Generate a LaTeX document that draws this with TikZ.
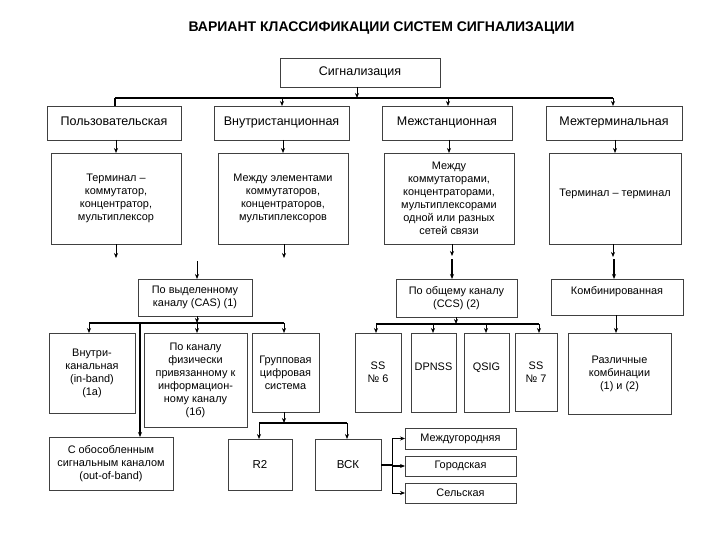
\documentclass[tikz,border=0pt]{standalone}
\usepackage{fontspec}
\setmainfont{Liberation Sans}
\usetikzlibrary{arrows.meta}
\begin{document}
\begin{tikzpicture}[x=1pt,y=-1pt,
  box/.style={draw=black!75, line width=0.8pt, inner sep=1pt, outer sep=0pt, align=center, font=\fontsize{10.9}{13}\selectfont},
  big/.style={box, font=\fontsize{12.5}{15}\selectfont, text height=9pt, text depth=3pt},
  arr/.style={-{Stealth[length=5pt,width=4pt]}, line width=0.7pt},
  tarr/.style={-{Stealth[length=5pt,width=4pt]}, line width=1.6pt},
  bus/.style={line width=2pt}]
\useasboundingbox[fill=white] (0,0) rectangle (720,540);

\node[font=\bfseries\fontsize{14}{16}\selectfont] (title) at (381.5,28) {ВАРИАНТ КЛАССИФИКАЦИИ СИСТЕМ СИГНАЛИЗАЦИИ};

\node[big, minimum width=160pt, minimum height=29pt] (sig) at (360,72.5) {Сигнализация};

\node[big, minimum width=134pt, minimum height=34pt] (P) at (114,123) {Пользовательская};
\node[big, minimum width=135pt, minimum height=34pt] (V) at (281.5,123) {Внутристанционная};
\node[big, minimum width=130pt, minimum height=34pt] (M) at (447,123) {Межстанционная};
\node[big, minimum width=136pt, minimum height=34pt] (T) at (614,123) {Межтерминальная};

\node[box, minimum width=130pt, minimum height=91pt] (A) at (116,198.5) {Терминал –\\коммутатор,\\концентратор,\\мультиплексор};
\node[box, minimum width=130pt, minimum height=91pt] (B) at (283,198.5) {Между элементами\\коммутаторов,\\концентраторов,\\мультиплексоров};
\node[box, minimum width=130pt, minimum height=91pt] (C) at (449,198.5) {Между\\коммутаторами,\\концентраторами,\\мультиплексорами\\одной или разных\\сетей связи};
\node[box, minimum width=132pt, minimum height=91pt, text height=8pt, text depth=12pt] (D) at (615,198.5) {Терминал – терминал};

\node[box, minimum width=114pt, minimum height=37pt] (CAS) at (195,297.5) {По выделенному\\каналу (CAS) (1)};
\node[box, minimum width=121pt, minimum height=38pt] (CCS) at (456.5,298) {По общему каналу\\(CCS) (2)};
\node[box, minimum width=132pt, minimum height=36pt, text height=8pt, text depth=14pt] (Komb) at (617,297) {Комбинированная};

\node[box, minimum width=86pt, minimum height=80pt] (IN) at (92,373) {Внутри-\\канальная\\(in-band)\\(1a)};
\node[box, minimum width=103pt, minimum height=94pt] (PK) at (195.5,380) {По каналу\\физически\\привязанному к\\информацион-\\ному каналу\\(1б)};
\node[box, minimum width=67pt, minimum height=79pt] (GR) at (285.5,372.5) {Групповая\\цифровая\\система};
\node[box, minimum width=46pt, minimum height=79pt] (SS6) at (378,372.5) {SS\\№ 6};
\node[box, minimum width=45pt, minimum height=79pt, text height=8pt, text depth=13pt] (DP) at (433.5,372.5) {DPNSS};
\node[box, minimum width=45pt, minimum height=79pt, text height=8pt, text depth=13pt] (QS) at (486.5,372.5) {QSIG};
\node[box, minimum width=42pt, minimum height=78pt] (SS7) at (536,372) {SS\\№ 7};
\node[box, minimum width=103pt, minimum height=81pt] (RK) at (619.5,373.5) {Различные\\комбинации\\(1) и (2)};

\node[box, minimum width=124pt, minimum height=53pt] (OB) at (111,463.5) {С обособленным\\сигнальным каналом\\(out-of-band)};
\node[box, font=\fontsize{11.5}{13}\selectfont, minimum width=64pt, minimum height=51pt] (R2) at (260,464.5) {R2};
\node[box, font=\fontsize{11.5}{13}\selectfont, minimum width=66pt, minimum height=51pt] (VSK) at (348,464.5) {ВСК};
\node[box, minimum width=111pt, minimum height=21pt] (MG) at (460.5,438.5) {Междугородняя};
\node[box, minimum width=111pt, minimum height=20pt] (GO) at (460.5,466) {Городская};
\node[box, minimum width=111pt, minimum height=20pt] (SE) at (460.5,493) {Сельская};

% top bus
\coordinate (b0) at (357,98);
\coordinate (bL) at (115,98);
\coordinate (bV) at (282,98);
\coordinate (bM) at (448,98);
\coordinate (bR) at (613,98);
\draw[arr] (sig.south -| b0) -- (b0);
\draw[bus] (bL) -- (bR);
\draw[bus] (bL) -- (P.north -| bL);
\draw[arr] (bV) -- (V.north -| bV);
\draw[arr] (bM) -- (M.north -| bM);
\draw[arr] (bR) -- (T.north -| bR);

% level 1 -> level 2
\draw[arr] (A.north |- P.south) -- (A.north);
\draw[arr] (B.north |- V.south) -- (B.north);
\draw[arr] (C.north |- M.south) -- (C.north);
\draw[arr] (D.north |- T.south) -- (D.north);

% level 2 -> level 3
\coordinate (a1) at (116,258);
\coordinate (bb1) at (284,258);
\coordinate (cas0) at (197,261);
\coordinate (c1) at (452,256);
\coordinate (c2) at (452,259);
\coordinate (d1) at (613,257);
\coordinate (d2) at (614,259);
\draw[arr] (A.south -| a1) -- (a1);
\draw[arr] (B.south -| bb1) -- (bb1);
\draw[arr] (cas0) -- (CAS.north -| cas0);
\draw[arr] (C.south -| c1) -- (c1);
\draw[tarr] (c2) -- (CCS.north -| c2);
\draw[arr] (D.south -| d1) -- (d1);
\draw[tarr] (d2) -- (Komb.north -| d2);

% CAS bus
\coordinate (cb) at (197,323);
\coordinate (cbL) at (89,323);
\coordinate (cbR) at (284,323);
\coordinate (cbO) at (140,323);
\draw[arr] (CAS.south -| cb) -- (cb);
\draw[bus] (cbL) -- (cbR);
\draw[arr] (cbL) -- (IN.north -| cbL);
\draw[arr] (cb) -- (PK.north -| cb);
\draw[arr] (cbR) -- (GR.north -| cbR);
\draw[tarr] (cbO) -- (OB.north -| cbO);

% group bus
\coordinate (gb) at (284,423);
\coordinate (gbL) at (259,423);
\coordinate (gbR) at (347,423);
\draw[arr] (GR.south -| gb) -- (gb);
\draw[bus] (gbL) -- (gbR);
\draw[arr] (gbL) -- (R2.north -| gbL);
\draw[arr] (gbR) -- (VSK.north -| gbR);

% CCS bus
\coordinate (sb) at (456,324);
\coordinate (sb1) at (376,324);
\coordinate (sb2) at (433,324);
\coordinate (sb3) at (486,324);
\coordinate (sb4) at (539,324);
\draw[arr] (CCS.south -| sb) -- (sb);
\draw[line width=1.3pt] (sb1) -- (sb4);
\draw[arr] (sb1) -- (SS6.north -| sb1);
\draw[arr] (sb2) -- (DP.north -| sb2);
\draw[arr] (sb3) -- (QS.north -| sb3);
\draw[arr] (sb4) -- (SS7.north -| sb4);

% combined
\coordinate (k1) at (616,0);
\draw[arr] (Komb.south -| k1) -- (RK.north -| k1);

% VSK fan
\coordinate (v1) at (392,465);
\draw[bus] (VSK.east) -- (VSK.east -| v1);
\draw[line width=1pt] (v1 |- MG.west) -- (v1 |- SE.west);
\draw[arr] (v1 |- MG.west) -- (MG.west);
\draw[tarr] (v1 |- GO.west) -- (GO.west);
\draw[arr] (v1 |- SE.west) -- (SE.west);
\end{tikzpicture}
\end{document}
